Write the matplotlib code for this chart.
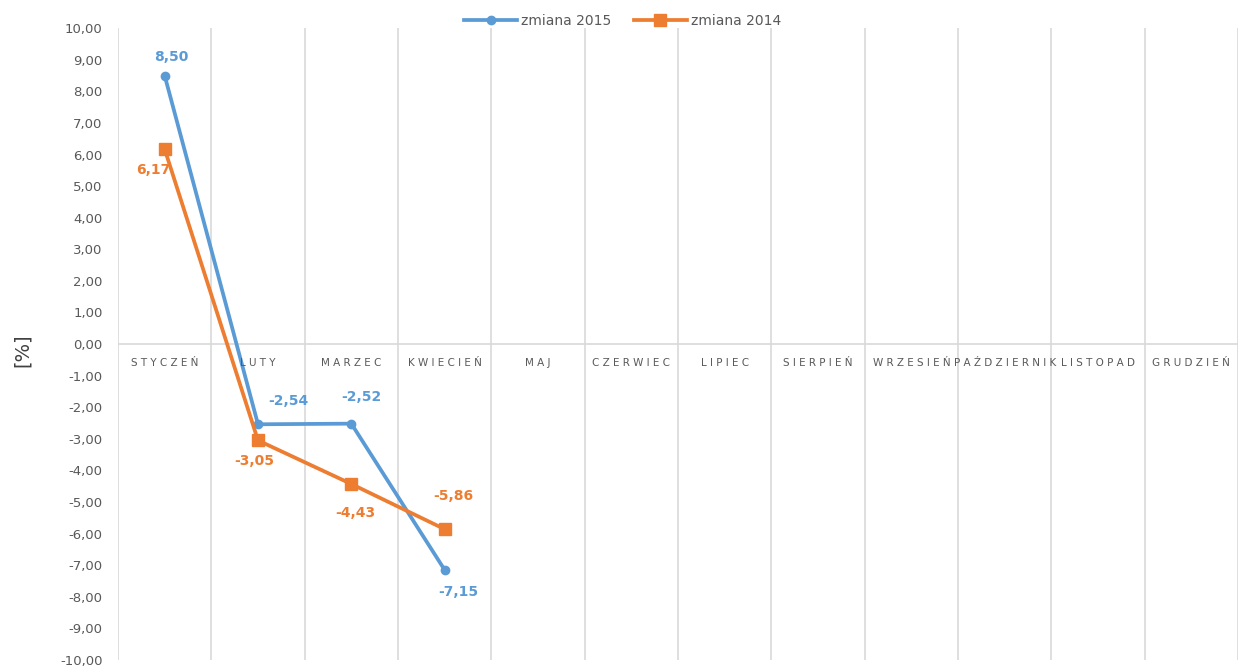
import numpy as np
import matplotlib.pyplot as plt

months = ["STYCZEŃ", "LUTY", "MARZEC", "KWIECIEŃ", "MAJ", "CZERWIEC", "LIPIEC",
          "SIERPIEŃ", "WRZESIEŃ", "PAŹDZIERNIK", "LISTOPAD", "GRUDZIEŃ"]
zm2015 = [8.50, -2.54, -2.52, -7.15]
zm2014 = [6.17, -3.05, -4.43, -5.86]
# label offsets (points) for each data label
off2015 = [(5, 13), (22, 17), (7, 19), (10, -16)]
off2014 = [(-8, -15), (-3, -15), (3, -21), (6, 24)]

blue = "#5B9BD5"
orange = "#ED7D31"

fig = plt.figure(figsize=(12.38, 6.70), dpi=100)
ax = fig.add_axes([0.0953, 0.015, 0.9047, 0.943])

x = np.arange(len(months))
ax.set_xlim(-0.5, len(months) - 0.5)
ax.set_ylim(-10, 10)

# vertical gridlines at category boundaries
for b in np.arange(-0.5, len(months) + 0.5, 1):
    ax.axvline(b, color="#D9D9D9", lw=1.2, zorder=0)
ax.axhline(0, color="#D9D9D9", lw=1.2, zorder=0)

ax.plot(x[:len(zm2015)], zm2015, color=blue, lw=2.7, marker="o", ms=6, label="zmiana 2015", zorder=3)
ax.plot(x[:len(zm2014)], zm2014, color=orange, lw=2.7, marker="s", ms=8, label="zmiana 2014", zorder=3)

for i, v in enumerate(zm2015):
    ax.annotate(f"{v:.2f}".replace(".", ","), (x[i], v), xytext=off2015[i], textcoords="offset points",
                ha="center", va="center", color=blue, fontsize=10, fontweight="bold")
for i, v in enumerate(zm2014):
    ax.annotate(f"{v:.2f}".replace(".", ","), (x[i], v), xytext=off2014[i], textcoords="offset points",
                ha="center", va="center", color=orange, fontsize=10, fontweight="bold")

# category labels next to the zero line
for i, m in enumerate(months):
    ax.text(x[i], -0.6, " ".join(m), ha="center", va="center", fontsize=7.5, color="#595959")

yt = np.arange(-10, 11, 1)
ax.set_yticks(yt)
ax.set_yticklabels([f"{v:.2f}".replace(".", ",") for v in yt], fontsize=9.5, color="#595959")
ax.set_xticks([])
ax.tick_params(axis="y", length=0, pad=11)
for s in ax.spines.values():
    s.set_visible(False)

fig.text(0.018, 0.478, "[%]", rotation=90, fontsize=14, color="#404040", ha="center", va="center")

fig.legend(*ax.get_legend_handles_labels(), loc="center", bbox_to_anchor=(0.503, 0.969), ncol=2,
           frameon=False, fontsize=10, labelcolor="#595959", handlelength=3.8, handletextpad=0.3,
           columnspacing=1.6)

fig.savefig("out.png", dpi=100)
